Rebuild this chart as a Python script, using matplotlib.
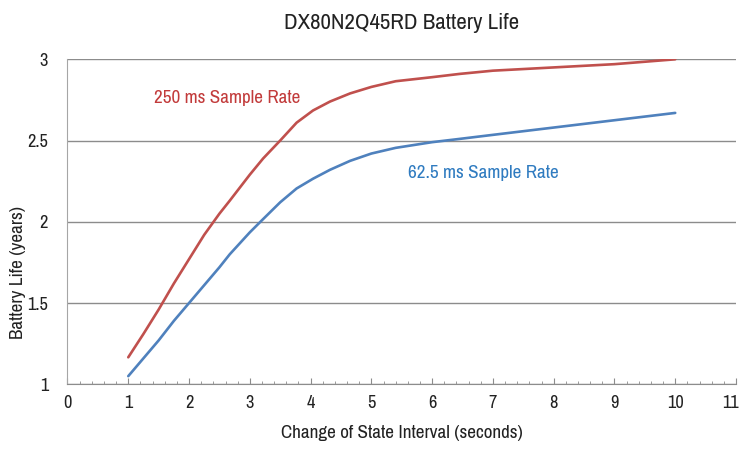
import matplotlib
matplotlib.use("Agg")
import matplotlib.pyplot as plt
import matplotlib.transforms as mtransforms
from matplotlib import font_manager as fm
from matplotlib.ticker import MultipleLocator

## ----------------------------------------------------------------------------
## Data
## ----------------------------------------------------------------------------
interval = [1, 1.25, 1.5, 1.75, 2, 2.25, 2.5, 2.67, 3, 3.22, 3.5, 3.77, 4.04,
            4.32, 4.65, 5, 5.4, 6, 6.45, 7, 8, 9, 10]
life_250ms = [1.166, 1.31, 1.46, 1.62, 1.77, 1.92, 2.05, 2.13, 2.29, 2.39, 2.50,
              2.61, 2.685, 2.74, 2.79, 2.83, 2.865, 2.89, 2.91, 2.93, 2.95,
              2.97, 3.00]
life_62ms = [1.05, 1.16, 1.27, 1.39, 1.50, 1.61, 1.72, 1.80, 1.935, 2.017, 2.12,
             2.205, 2.265, 2.32, 2.375, 2.42, 2.455, 2.49, 2.51, 2.535, 2.58,
             2.625, 2.67]

x_ticks = list(range(0, 12))
y_ticks = [1, 1.5, 2, 2.5, 3]
y_tick_labels = ["1", "1.5", "2", "2.5", "3"]

title = "DX80N2Q45RD Battery Life"
label_250 = "250 ms Sample Rate"
label_62 = "62.5 ms Sample Rate"

RED = "#C0504D"
BLUE = "#4F81BD"
GRID = "#8C8C8C"


def pickNarrowFont():
    ## look for any narrow / condensed face that is installed
    for f in fm.fontManager.ttflist:
        if 'Narrow' in f.name or 'Condensed' in f.name:
            return f.name, 'normal'
    for f in fm.fontManager.ttflist:
        if f.name == 'DejaVu Sans' and 'ondensed' in str(f.stretch):
            return 'DejaVu Sans', 'condensed'
    return None, 'normal'


def main():
    name, stretch = pickNarrowFont()
    if name is not None:
        plt.rcParams['font.family'] = [name, 'DejaVu Sans']
        plt.rcParams['font.stretch'] = stretch
        scale = 1.0
    else:
        plt.rcParams['font.family'] = ['Liberation Sans', 'DejaVu Sans']
        scale = 0.85

    fig = plt.figure(figsize=(7.4, 4.53), dpi=100)
    ax = fig.add_axes([0.0912, 0.1517, 0.9034, 0.7174])

    ax.plot(interval, life_250ms, color=RED, lw=1.9, solid_capstyle='round',
            solid_joinstyle='round')
    ax.plot(interval, life_62ms, color=BLUE, lw=1.9, solid_capstyle='round',
            solid_joinstyle='round')

    ax.set_xlim(0, 11)
    ax.set_ylim(1, 3)
    ax.set_xticks(x_ticks)
    ax.xaxis.set_minor_locator(MultipleLocator(0.2))
    ax.set_yticks(y_ticks)
    ax.set_yticklabels(y_tick_labels)

    ## horizontal grid only
    ax.yaxis.grid(True, color=GRID, lw=1.0)
    ax.set_axisbelow(True)

    for s in ['top', 'right']:
        ax.spines[s].set_visible(False)
    ax.spines['left'].set_color("#A6A6A6")
    ax.spines['bottom'].set_color(GRID)

    ax.tick_params(axis='x', which='major', direction='in', length=4,
                   color=GRID, labelsize=13.2 * scale, pad=8, labelcolor='#222222')
    ax.tick_params(axis='x', which='minor', direction='in', length=2.5,
                   color=GRID)
    ax.tick_params(axis='y', length=0, labelsize=13.2 * scale, pad=14,
                   labelcolor='#222222')

    ## the last x label sits at the figure edge, nudge it left a bit
    last = ax.get_xticklabels()[-1]
    last.set_transform(last.get_transform() +
                       mtransforms.ScaledTranslation(-4 / 72, 0, fig.dpi_scale_trans))

    ax.set_title(title, fontsize=16.5 * scale, pad=22, color='#222222')
    ax.set_xlabel("Change of State Interval (seconds)", fontsize=13.75 * scale,
                  color='#222222', labelpad=10)
    ax.set_ylabel("Battery Life (years)", fontsize=13.75 * scale, color='#222222')
    ax.yaxis.set_label_coords(-0.062, 0.345)

    ax.text(1.43, 2.76, label_250, color="#C23B3B", fontsize=13.75 * scale,
            ha='left', va='center')
    ax.text(5.6, 2.30, label_62, color="#2F7BC0", fontsize=13.75 * scale,
            ha='left', va='center')

    fig.savefig("out.png", dpi=100)


if __name__ == "__main__":
    main()
